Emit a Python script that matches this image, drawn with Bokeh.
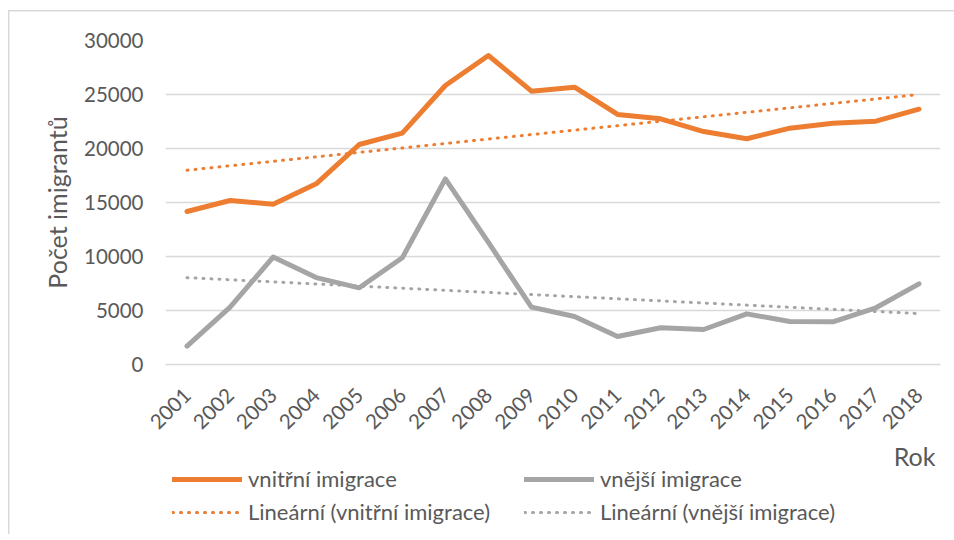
import numpy as np
from bokeh.plotting import figure
from bokeh.layouts import column
from bokeh.models import Range1d, FixedTicker, Legend, LegendItem, Title
from bokeh.embed import file_html
from bokeh.resources import INLINE

years = list(range(2001, 2019))
vnitrni = [14170, 15185, 14840, 16730, 20370, 21420, 25830, 28610, 25310,
           25680, 23150, 22750, 21570, 20900, 21880, 22340, 22530, 23640]
vnejsi = [1700, 5310, 9950, 8050, 7100, 9880, 17190, 11300, 5310,
          4440, 2590, 3400, 3240, 4690, 3980, 3950, 5250, 7470]
y_ticks = [0, 5000, 10000, 15000, 20000, 25000, 30000]
series_labels = ["vnitřní imigrace", "vnější imigrace",
                 "Lineární (vnitřní imigrace)", "Lineární (vnější imigrace)"]

ORANGE = "#ED7D31"
GRAY = "#A5A5A5"
TXT = "#595959"
GRID = "#D9D9D9"
FONT = "Lato"
FS_TICK = "20.5px"
FS_TITLE = "25px"
FS_LEG = "22px"

x = np.array(years, dtype=float)
t1 = np.polyval(np.polyfit(x, vnitrni, 1), x)
t2 = np.polyval(np.polyfit(x, vnejsi, 1), x)

H_MAIN = 470
p = figure(width=954, height=H_MAIN, output_backend="svg", toolbar_location=None,
           x_range=Range1d(2000.5, 2018.5), y_range=Range1d(0, 30000),
           min_border_left=165, min_border_right=14, min_border_top=40,
           min_border_bottom=H_MAIN - 364)
p.outline_line_color = None
p.background_fill_color = "white"
p.border_fill_alpha = 0

solid = dict(line_width=5, line_join="round", line_cap="round")
dotted = dict(line_width=3, line_dash="1 7", line_cap="round")
p.line(years, vnitrni, line_color=ORANGE, **solid)
p.line(years, vnejsi, line_color=GRAY, **solid)
p.line(years, list(t1), line_color=ORANGE, **dotted)
p.line(years, list(t2), line_color=GRAY, **dotted)

p.xgrid.grid_line_color = None
p.ygrid.grid_line_color = GRID
p.ygrid.grid_line_width = 1.5
p.ygrid.ticker = FixedTicker(ticks=y_ticks)

yax = p.yaxis[0]
yax.ticker = FixedTicker(ticks=y_ticks)
yax.axis_line_color = None
yax.major_tick_line_color = None
yax.minor_tick_line_color = None
yax.major_label_text_font = FONT
yax.major_label_text_font_size = FS_TICK
yax.major_label_text_color = TXT
yax.major_label_standoff = 16
yax.axis_label = "Počet imigrantů"
yax.axis_label_text_font = FONT
yax.axis_label_text_font_size = FS_TITLE
yax.axis_label_text_font_style = "normal"
yax.axis_label_text_color = TXT
yax.axis_label_standoff = 9

xax = p.xaxis[0]
xax.ticker = FixedTicker(ticks=years)
xax.axis_line_color = GRID
xax.axis_line_width = 1.5
xax.major_tick_line_color = None
xax.minor_tick_line_color = None
xax.major_label_orientation = np.pi / 4
xax.major_label_text_font = FONT
xax.major_label_text_font_size = FS_TICK
xax.major_label_text_color = TXT
xax.major_label_standoff = 21

# x-axis title "Rok", right-aligned under the axis
rok = Title(text="Rok", align="right", offset=5, standoff=0,
            text_font=FONT, text_font_size=FS_TITLE, text_font_style="normal",
            text_color=TXT)
p.add_layout(rok, "below")

# legend panel (second figure directly below the chart, frame aligned with chart)
H_LEG = 540 - H_MAIN
q = figure(width=954, height=H_LEG, output_backend="svg", toolbar_location=None,
           x_range=Range1d(0, 1), y_range=Range1d(0, 1),
           min_border_left=165, min_border_right=14, min_border_top=0, min_border_bottom=0)
q.styles = {"margin-top": "-6px"}
q.axis.visible = False
q.grid.visible = False
q.outline_line_color = None
q.background_fill_alpha = 0
q.border_fill_alpha = 0
hx, hy = [5, 6], [5, 6]
l1 = q.line(hx, hy, line_color=ORANGE, **solid)
l2 = q.line(hx, hy, line_color=GRAY, **solid)
l3 = q.line(hx, hy, line_color=ORANGE, **dotted)
l4 = q.line(hx, hy, line_color=GRAY, **dotted)

legend = Legend(items=[LegendItem(label=lab, renderers=[r])
                       for lab, r in zip(series_labels, [l1, l2, l3, l4])],
                orientation="horizontal", ncols=2, location=(7, 9))
legend.label_text_font = FONT
legend.label_text_font_size = FS_LEG
legend.label_text_color = TXT
legend.glyph_width = 70
legend.glyph_height = 20
legend.label_height = 20
legend.label_width = 270
legend.label_standoff = 6
legend.spacing = 6
legend.padding = 0
legend.margin = 0
legend.border_line_color = None
legend.background_fill_alpha = 0
q.add_layout(legend, "center")

layout = column(p, q, spacing=0)
layout.styles = {
    "background-image": "linear-gradient(#D9D9D9, #D9D9D9), linear-gradient(#D9D9D9, #D9D9D9)",
    "background-size": "1.5px 100%, 100% 1.5px",
    "background-position": "8px 10px, 8px 10px",
    "background-repeat": "no-repeat",
}

open("out.html", "w").write(file_html(layout, INLINE))
